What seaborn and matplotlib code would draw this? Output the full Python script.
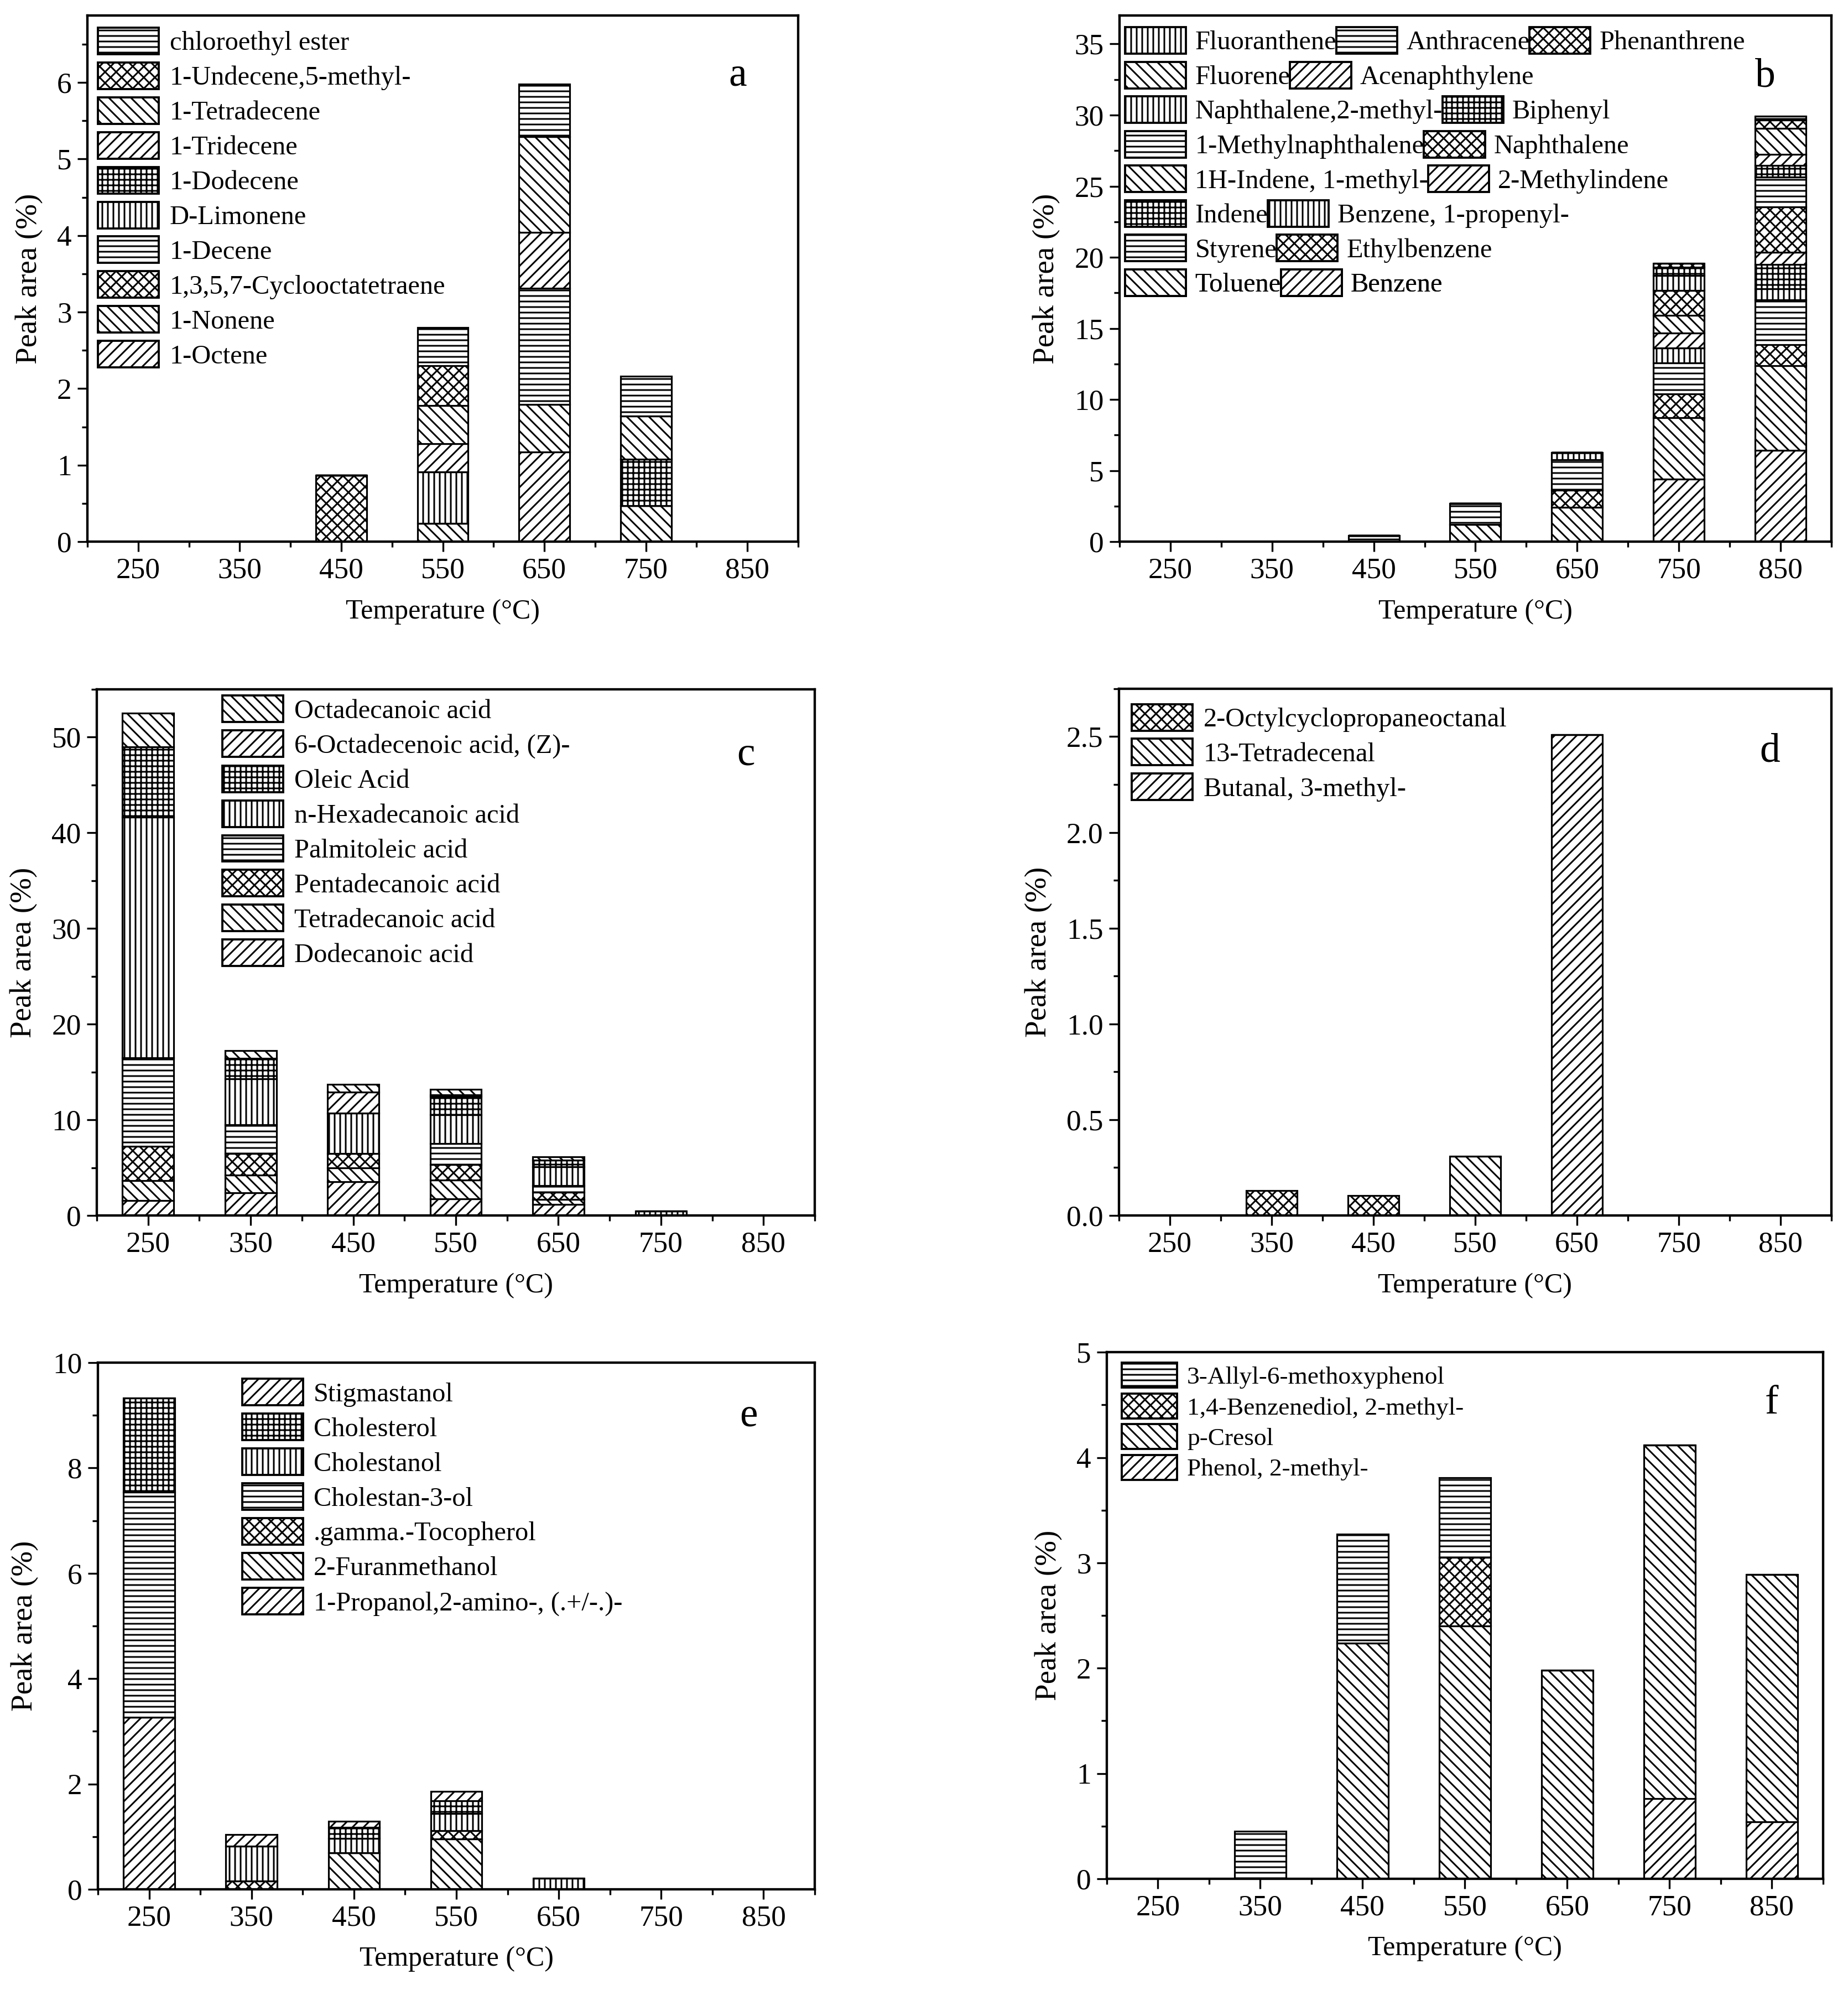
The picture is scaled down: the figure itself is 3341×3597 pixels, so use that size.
import matplotlib
matplotlib.use('Agg')
import matplotlib.pyplot as plt
from matplotlib.patches import Patch
from matplotlib.ticker import MultipleLocator, FormatStrFormatter
import seaborn as sns
import pandas as pd
import numpy as np

# ---------------- data ----------------
temps = [250, 350, 450, 550, 650, 750, 850]

# panel a (bottom -> top)
a_labels = ['1-Octene', '1-Nonene', '1,3,5,7-Cyclooctatetraene', '1-Decene', 'D-Limonene',
            '1-Dodecene', '1-Tridecene', '1-Tetradecene', '1-Undecene,5-methyl-', 'chloroethyl ester']
a_octene = [0, 0, 0, 0, 1.17, 0, 0]
a_nonene = [0, 0, 0, 0.24, 0.62, 0.47, 0]
a_cot = [0, 0, 0.87, 0, 0, 0, 0]
a_decene = [0, 0, 0, 0, 1.52, 0, 0]
a_limonene = [0, 0, 0, 0.67, 0, 0, 0]
a_dodecene = [0, 0, 0, 0, 0, 0.61, 0]
a_tridecene = [0, 0, 0, 0.37, 0.73, 0, 0]
a_tetradecene = [0, 0, 0, 0.50, 1.25, 0.56, 0]
a_undecene = [0, 0, 0, 0.52, 0, 0, 0]
a_chloro = [0, 0, 0, 0.50, 0.69, 0.52, 0]

# panel b (bottom -> top)
b_labels = ['Benzene', 'Toluene', 'Ethylbenzene', 'Styrene', 'Benzene, 1-propenyl-', 'Indene',
            '2-Methylindene', '1H-Indene, 1-methyl-', 'Naphthalene', '1-Methylnaphthalene',
            'Naphthalene,2-methyl-', 'Biphenyl', 'Acenaphthylene', 'Fluorene', 'Phenanthrene',
            'Anthracene', 'Fluoranthene']
b_benzene = [0, 0, 0, 0, 0, 4.40, 6.43]
b_toluene = [0, 0, 0, 1.20, 2.42, 4.30, 5.93]
b_ethylbenzene = [0, 0, 0, 0, 1.21, 1.68, 1.49]
b_styrene = [0, 0, 0.45, 1.47, 2.15, 2.20, 3.17]
b_propenylbenzene = [0, 0, 0, 0, 0.50, 1.03, 0.78]
b_indene = [0, 0, 0, 0, 0, 0, 1.68]
b_methylindene2 = [0, 0, 0, 0, 0, 1.06, 0.89]
b_methylindene1 = [0, 0, 0, 0, 0, 1.23, 0]
b_naphthalene = [0, 0, 0, 0, 0, 1.75, 3.17]
b_methylnaph1 = [0, 0, 0, 0, 0, 0, 2.09]
b_methylnaph2 = [0, 0, 0, 0, 0, 1.08, 0]
b_biphenyl = [0, 0, 0, 0, 0, 0.56, 0.84]
b_acenaphthylene = [0, 0, 0, 0, 0, 0, 0.75]
b_fluorene = [0, 0, 0, 0, 0, 0, 1.85]
b_phenanthrene = [0, 0, 0, 0, 0, 0.28, 0.57]
b_anthracene = [0, 0, 0, 0, 0, 0, 0.28]
b_fluoranthene = [0, 0, 0, 0, 0, 0, 0]
b_legend_rows = [[16, 15, 14], [13, 12], [10, 11], [9, 8], [7, 6], [5, 4], [3, 2], [1, 0]]

# panel c (bottom -> top)
c_labels = ['Dodecanoic acid', 'Tetradecanoic acid', 'Pentadecanoic acid', 'Palmitoleic acid',
            'n-Hexadecanoic acid', 'Oleic Acid', '6-Octadecenoic acid, (Z)-', 'Octadecanoic acid']
c_dodecanoic = [1.55, 2.39, 3.54, 1.73, 1.15, 0, 0]
c_tetradecanoic = [2.08, 1.86, 1.46, 1.99, 0.53, 0, 0]
c_pentadecanoic = [3.58, 2.21, 1.46, 1.59, 0.75, 0, 0]
c_palmitoleic = [9.29, 3.05, 0, 2.21, 0.71, 0, 0]
c_hexadecanoic = [25.14, 4.78, 4.25, 3.01, 1.95, 0.44, 0]
c_oleic = [7.34, 2.13, 0, 1.90, 0.71, 0, 0]
c_octadecenoic6 = [0, 0, 2.17, 0.20, 0, 0, 0]
c_octadecanoic = [3.54, 0.84, 0.84, 0.56, 0.35, 0, 0]

# panel d (bottom -> top)
d_labels = ['Butanal, 3-methyl-', '13-Tetradecenal', '2-Octylcyclopropaneoctanal']
d_butanal = [0, 0, 0, 0, 2.51, 0, 0]
d_tetradecenal = [0, 0, 0, 0.31, 0, 0, 0]
d_octylcyclo = [0, 0.13, 0.105, 0, 0, 0, 0]

# panel e (bottom -> top)
e_labels = ['1-Propanol,2-amino-, (.+/-.)-', '2-Furanmethanol', '.gamma.-Tocopherol',
            'Cholestan-3-ol', 'Cholestanol', 'Cholesterol', 'Stigmastanol']
e_propanol = [3.27, 0, 0, 0, 0, 0, 0]
e_furanmethanol = [0, 0, 0.69, 0.96, 0, 0, 0]
e_tocopherol = [0, 0.16, 0, 0.15, 0, 0, 0]
e_cholestan3ol = [4.27, 0, 0, 0, 0, 0, 0]
e_cholestanol = [0, 0.66, 0.28, 0.33, 0.21, 0, 0]
e_cholesterol = [1.79, 0, 0.21, 0.24, 0, 0, 0]
e_stigmastanol = [0, 0.22, 0.11, 0.18, 0, 0, 0]

# panel f (bottom -> top)
f_labels = ['Phenol, 2-methyl-', 'p-Cresol', '1,4-Benzenediol, 2-methyl-', '3-Allyl-6-methoxyphenol']
f_phenol2m = [0, 0, 0, 0, 0, 0.76, 0.54]
f_pcresol = [0, 0, 2.24, 2.40, 1.98, 3.36, 2.35]
f_benzenediol = [0, 0, 0, 0.65, 0, 0, 0]
f_allyl = [0, 0.45, 1.03, 0.76, 0, 0, 0]

# ---------------- style ----------------
sns.set_theme(style='ticks', rc={'axes.edgecolor': 'black', 'xtick.color': 'black',
                                 'ytick.color': 'black', 'text.color': 'black',
                                 'axes.labelcolor': 'black'})
plt.rcParams['font.family'] = ['Liberation Serif', 'DejaVu Serif']
plt.rcParams['hatch.linewidth'] = 1.8
plt.rcParams['hatch.color'] = 'black'

DPI = 120
HATCHES = ['//', '\\\\', 'xx', '--', '||', '++']
EDGE_LW = 1.9
TICK_FS = 32
XLABEL_FS = 30
YLABEL_FS = 33
LEG_FS = 29
LETTER_FS = 44

fig = plt.figure(figsize=(3341 / DPI, 3597 / DPI), dpi=DPI)


def stack(ax, series):
    bottom = np.zeros(len(temps))
    for i, vals in enumerate(series):
        vals = np.asarray(vals, dtype=float)
        df = pd.DataFrame({'T': temps, 'v': vals})
        try:
            sns.barplot(data=df, x='T', y='v', native_scale=True, width=0.5, color='white',
                        saturation=1, edgecolor='black', linewidth=EDGE_LW,
                        hatch=HATCHES[i % 6], bottom=bottom.copy(), errorbar=None, ax=ax,
                        zorder=2)
        except Exception:
            ax.bar(temps, vals, width=50, bottom=bottom.copy(), color='white',
                   edgecolor='black', linewidth=EDGE_LW, hatch=HATCHES[i % 6], zorder=2)
        bottom += vals


def handle(i):
    return Patch(facecolor='white', edgecolor='black', hatch=HATCHES[i % 6], linewidth=2.3)


def style_axes(ax, ylim, major, minor, fmt, letter, lx, ly):
    ax.set_xlim(200, 900)
    ax.set_ylim(*ylim)
    ax.set_xticks(temps)
    ax.set_xticklabels([str(t) for t in temps])
    ax.set_xticks(np.arange(200, 901, 100), minor=True)
    ax.yaxis.set_major_locator(MultipleLocator(major))
    ax.yaxis.set_minor_locator(MultipleLocator(minor))
    ax.yaxis.set_major_formatter(FormatStrFormatter(fmt))
    ax.tick_params(which='both', direction='out', top=False, right=False, width=2.0,
                   labelsize=TICK_FS)
    ax.tick_params(which='major', length=11, pad=6)
    ax.tick_params(which='minor', length=6)
    for sp in ax.spines.values():
        sp.set_linewidth(2.6)
        sp.set_color('black')
        sp.set_zorder(5)
    ax.set_xlabel('Temperature (°C)', fontsize=XLABEL_FS, labelpad=16)
    ax.set_ylabel('Peak area (%)', fontsize=YLABEL_FS, labelpad=15)
    ax.text(lx, ly, letter, transform=ax.transAxes, fontsize=LETTER_FS, ha='center', va='center')
    ax.grid(False)


def simple_legend(ax, labels, x, y, fs=LEG_FS, hl=2.28, hh=1.15, ls=0.26):
    n = len(labels)
    idx = list(range(n))[::-1]
    ax.legend([handle(i) for i in idx], [labels[i] for i in idx], loc='upper left',
              bbox_to_anchor=(x, y), frameon=False, fontsize=fs, handlelength=hl,
              handleheight=hh, labelspacing=ls, handletextpad=0.4, borderpad=0,
              borderaxespad=0)


# panel positions [left, bottom, width, height]
ax_a = fig.add_axes([0.0473, 0.7278, 0.3846, 0.2644])
ax_b = fig.add_axes([0.6058, 0.7278, 0.3852, 0.2644])
ax_c = fig.add_axes([0.0524, 0.3892, 0.3885, 0.2644])
ax_d = fig.add_axes([0.6055, 0.3892, 0.3855, 0.2647])
ax_e = fig.add_axes([0.0530, 0.0506, 0.3879, 0.2647])
ax_f = fig.add_axes([0.5989, 0.0559, 0.3876, 0.2646])

# a
stack(ax_a, [a_octene, a_nonene, a_cot, a_decene, a_limonene, a_dodecene, a_tridecene,
             a_tetradecene, a_undecene, a_chloro])
style_axes(ax_a, (0, 6.875), 1, 0.5, '%d', 'a', 0.915, 0.886)
simple_legend(ax_a, a_labels, 0.0148, 0.977)

# b
stack(ax_b, [b_benzene, b_toluene, b_ethylbenzene, b_styrene, b_propenylbenzene, b_indene,
             b_methylindene2, b_methylindene1, b_naphthalene, b_methylnaph1, b_methylnaph2,
             b_biphenyl, b_acenaphthylene, b_fluorene, b_phenanthrene, b_anthracene,
             b_fluoranthene])
style_axes(ax_b, (0, 37), 5, 2.5, '%d', 'b', 0.907, 0.884)
row_pitch = 62.5 / 950
for r, row in enumerate(b_legend_rows):
    leg = ax_b.legend([handle(i) for i in row], [b_labels[i] for i in row], loc='upper left',
                      bbox_to_anchor=(0.008, 0.978 - r * row_pitch), ncol=len(row),
                      frameon=False, fontsize=LEG_FS, handlelength=2.28, handleheight=1.15,
                      handletextpad=0.33, columnspacing=0.0, borderpad=0, borderaxespad=0)
    ax_b.add_artist(leg)

# c
stack(ax_c, [c_dodecanoic, c_tetradecanoic, c_pentadecanoic, c_palmitoleic, c_hexadecanoic,
             c_oleic, c_octadecenoic6, c_octadecanoic])
style_axes(ax_c, (0, 55), 10, 5, '%d', 'c', 0.904, 0.875)
simple_legend(ax_c, c_labels, 0.175, 0.988)

# d
stack(ax_d, [d_butanal, d_tetradecenal, d_octylcyclo])
style_axes(ax_d, (0, 2.75), 0.5, 0.25, '%.1f', 'd', 0.914, 0.88)
simple_legend(ax_d, d_labels, 0.018, 0.971)

# e
stack(ax_e, [e_propanol, e_furanmethanol, e_tocopherol, e_cholestan3ol, e_cholestanol,
             e_cholesterol, e_stigmastanol])
style_axes(ax_e, (0, 10), 2, 1, '%d', 'e', 0.908, 0.898)
simple_legend(ax_e, e_labels, 0.201, 0.969)

# f
stack(ax_f, [f_phenol2m, f_pcresol, f_benzenediol, f_allyl])
style_axes(ax_f, (0, 5), 1, 0.5, '%d', 'f', 0.928, 0.902)
simple_legend(ax_f, f_labels, 0.021, 0.98, fs=27.2, hl=2.2, hh=1.15, ls=0.19)

fig.savefig('out.png', dpi=DPI, facecolor='white')
